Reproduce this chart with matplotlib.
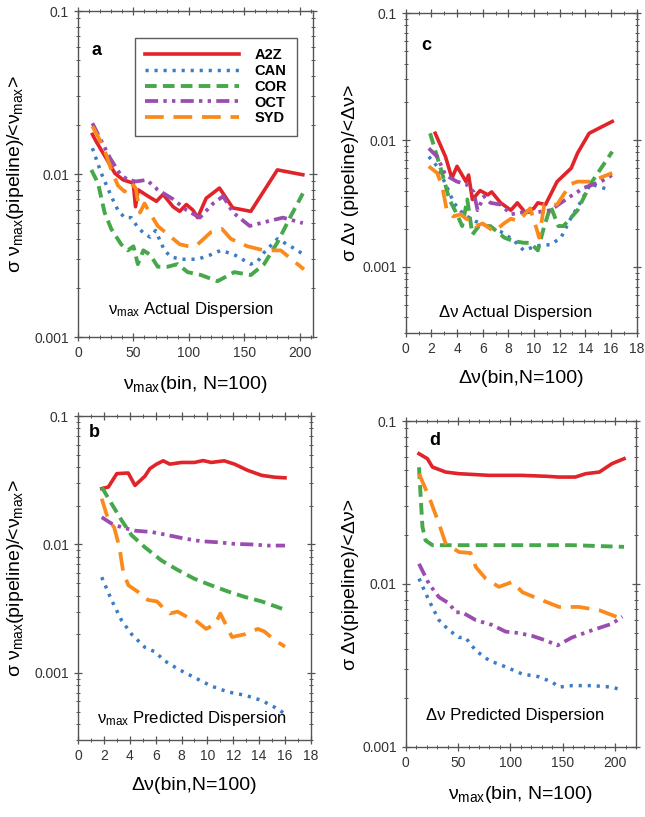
import matplotlib
matplotlib.use('Agg')
import matplotlib.pyplot as plt
from matplotlib.ticker import FixedLocator, MultipleLocator, NullFormatter, LogLocator

plt.rcParams['font.family'] = ['Liberation Sans', 'DejaVu Sans']
plt.rcParams['mathtext.fontset'] = 'custom'
plt.rcParams['mathtext.rm'] = 'Liberation Sans'
plt.rcParams['mathtext.it'] = 'Liberation Sans'
plt.rcParams['mathtext.bf'] = 'Liberation Sans:bold'

SERIES = ['A2Z', 'CAN', 'COR', 'OCT', 'SYD']

# panel a: numax actual dispersion vs numax bin
a_x_a2z = [13, 16, 20, 26, 33.3, 40.8, 49.8, 51.9, 54.3, 63.3, 70.8, 76.8, 85.8, 91.8, 97.8, 103.8, 108, 115.7, 127.7, 139.7, 156, 180, 203]
a_y_a2z = [0.0175, 0.0160, 0.0144, 0.0123, 0.0101, 0.0092, 0.0088, 0.0063, 0.0080, 0.0073, 0.0068, 0.0075, 0.0063, 0.0059, 0.0065, 0.0060, 0.0054, 0.0071, 0.0082, 0.0062, 0.0059, 0.0106, 0.0099]
a_x_can = [13, 21, 30, 36, 42, 48, 54, 60, 65, 70, 78, 84, 93, 108, 120, 129, 141, 156, 162, 168, 180, 192, 204]
a_y_can = [0.0144, 0.0101, 0.0073, 0.0060, 0.0054, 0.0054, 0.0047, 0.0043, 0.0041, 0.0045, 0.0034, 0.0031, 0.0030, 0.0030, 0.0032, 0.0034, 0.0032, 0.0028, 0.0029, 0.0033, 0.0040, 0.0036, 0.0032]
a_x_cor = [12, 18, 24, 30, 39, 45, 50, 54, 59, 65, 72, 81, 90, 99, 111, 126, 141, 156, 168, 180, 192, 203]
a_y_cor = [0.0106, 0.0088, 0.0058, 0.0046, 0.0037, 0.0034, 0.0036, 0.0028, 0.0034, 0.0032, 0.0027, 0.0027, 0.0028, 0.0025, 0.0024, 0.0022, 0.0025, 0.0024, 0.0028, 0.0038, 0.0055, 0.0076]
a_x_oct = [13, 20, 29, 38, 44, 52, 62, 72, 86, 98, 110, 122, 131, 140, 155, 170, 185, 203]
a_y_oct = [0.0205, 0.0165, 0.0125, 0.0100, 0.0093, 0.0090, 0.0092, 0.0080, 0.0070, 0.0060, 0.0054, 0.0066, 0.0073, 0.0058, 0.0048, 0.0051, 0.0054, 0.0050]
a_x_syd = [13, 18, 24, 30, 36, 42, 48, 52, 56, 60, 66, 72, 84, 92, 100, 108, 120, 130, 138, 153, 168, 183, 204]
a_y_syd = [0.0196, 0.0170, 0.0140, 0.0106, 0.0085, 0.0078, 0.0088, 0.0082, 0.0058, 0.0066, 0.0056, 0.0048, 0.0041, 0.0037, 0.0036, 0.0037, 0.0044, 0.0046, 0.0040, 0.0036, 0.0034, 0.0034, 0.0026]

# panel c: delta-nu actual dispersion vs delta-nu bin
c_x_a2z = [2.3, 3.1, 3.6, 4.0, 4.7, 4.9, 5.2, 5.8, 6.4, 6.7, 7.4, 8.2, 8.7, 9.3, 10.0, 10.3, 10.9, 11.8, 12.9, 13.4, 14.3, 16.1]
c_y_a2z = [0.0113, 0.0074, 0.0050, 0.0062, 0.0047, 0.0053, 0.0034, 0.0040, 0.0037, 0.0039, 0.0032, 0.0028, 0.0032, 0.0027, 0.0029, 0.0032, 0.0031, 0.0047, 0.0060, 0.0079, 0.0113, 0.0140]
c_x_can = [1.8, 2.45, 3.2, 3.75, 4.5, 5.4, 6.35, 7.4, 8.4, 9.2, 10.25, 11.3, 12.1, 12.85, 13.6, 14.4, 15.7]
c_y_can = [0.0074, 0.0062, 0.0043, 0.0032, 0.0026, 0.0023, 0.0021, 0.0019, 0.00163, 0.00135, 0.00147, 0.0015, 0.0017, 0.0024, 0.0032, 0.0045, 0.0041]
c_x_cor = [1.9, 2.45, 3.0, 3.4, 4.0, 4.4, 4.8, 5.2, 5.7, 6.6, 7.7, 8.4, 9.2, 9.7, 10.3, 10.8, 11.3, 11.9, 12.3, 13.4, 14.4, 16.1]
c_y_cor = [0.0113, 0.0074, 0.0048, 0.0034, 0.0026, 0.0021, 0.0034, 0.0018, 0.0021, 0.0021, 0.0017, 0.0016, 0.00155, 0.00155, 0.00135, 0.0021, 0.0030, 0.0021, 0.0021, 0.0028, 0.0045, 0.0081]
c_x_oct = [1.8, 2.45, 3.1, 4.0, 4.7, 5.3, 5.6, 6.1, 6.6, 7.4, 8.2, 9.2, 10.25, 11.3, 12.1, 12.85, 13.9, 15.2, 16.1]
c_y_oct = [0.0086, 0.0074, 0.0053, 0.0047, 0.0045, 0.0039, 0.0028, 0.0036, 0.0032, 0.0031, 0.0026, 0.0027, 0.0027, 0.0028, 0.0032, 0.0036, 0.0042, 0.0047, 0.0053]
c_x_syd = [1.8, 2.45, 2.85, 3.2, 3.7, 4.3, 4.7, 5.2, 5.45, 6.0, 6.9, 7.65, 8.2, 8.8, 9.7, 10.2, 10.4, 10.8, 11.8, 12.85, 13.4, 14.4, 16.1]
c_y_syd = [0.0062, 0.0055, 0.0043, 0.0028, 0.0025, 0.0026, 0.0024, 0.0023, 0.0021, 0.0022, 0.0019, 0.0022, 0.0024, 0.0023, 0.0029, 0.0020, 0.0017, 0.0031, 0.0031, 0.0045, 0.0047, 0.0047, 0.0055]

# panel b: numax predicted dispersion vs delta-nu bin
b_x_a2z = [1.83, 2.34, 3.0, 3.88, 4.4, 4.8, 5.17, 5.55, 6.07, 6.58, 7.1, 8.0, 9.0, 9.67, 10.3, 11.3, 12.1, 13.1, 14.2, 15.2, 16.0]
b_y_a2z = [0.0272, 0.028, 0.0356, 0.036, 0.0288, 0.0314, 0.034, 0.0389, 0.0422, 0.0448, 0.0422, 0.0435, 0.0435, 0.045, 0.0435, 0.0448, 0.0422, 0.0378, 0.0345, 0.0334, 0.033]
b_x_can = [1.83, 2.6, 3.37, 4.14, 5.17, 5.94, 6.7, 7.74, 9.0, 10.3, 11.6, 12.9, 14.2, 15.2, 16.0]
b_y_can = [0.00556, 0.00367, 0.00256, 0.0020, 0.00158, 0.00146, 0.00124, 0.00107, 0.00092, 0.00079, 0.00071, 0.00067, 0.00061, 0.00054, 0.00048]
b_x_cor = [1.83, 2.6, 3.37, 4.14, 5.17, 6.45, 7.74, 9.0, 10.3, 11.6, 12.9, 14.2, 16.0]
b_y_cor = [0.028, 0.0207, 0.0154, 0.0118, 0.0095, 0.0075, 0.0063, 0.0054, 0.0048, 0.0043, 0.0039, 0.0036, 0.0031]
b_x_oct = [1.83, 2.6, 3.37, 4.4, 5.68, 6.97, 8.25, 9.5, 10.8, 12.1, 13.4, 14.7, 16.0]
b_y_oct = [0.0163, 0.0145, 0.0136, 0.0128, 0.0125, 0.0118, 0.0111, 0.0106, 0.0104, 0.0101, 0.0100, 0.0098, 0.0098]
b_x_syd = [1.83, 2.3, 2.8, 3.2, 3.5, 3.9, 4.6, 5.4, 6.1, 6.6, 7.1, 7.7, 8.5, 9.0, 9.9, 10.6, 11.0, 11.9, 12.9, 13.9, 14.4, 15.2, 16.0]
b_y_syd = [0.0227, 0.0160, 0.0135, 0.0095, 0.0060, 0.0048, 0.0043, 0.0037, 0.0036, 0.0032, 0.0029, 0.0030, 0.0027, 0.0026, 0.0022, 0.0024, 0.0029, 0.0019, 0.0020, 0.0022, 0.0021, 0.0018, 0.0016]

# panel d: delta-nu predicted dispersion vs numax bin
d_x_a2z = [12.7, 20.7, 25.5, 38.2, 51, 79.6, 111, 134, 146.5, 162, 172, 185, 197, 208.6]
d_y_a2z = [0.063, 0.0587, 0.0522, 0.0486, 0.0475, 0.0464, 0.0464, 0.0458, 0.0453, 0.0453, 0.0475, 0.0486, 0.0547, 0.0587]
d_x_can = [12.7, 22.3, 31.8, 41.4, 51, 57, 67, 79.6, 95.5, 111.5, 127, 140, 146.5, 159, 178, 197, 207]
d_y_can = [0.0108, 0.0079, 0.0060, 0.0052, 0.0047, 0.0047, 0.0039, 0.0034, 0.0031, 0.0028, 0.0027, 0.0025, 0.00233, 0.00238, 0.00238, 0.00233, 0.00223]
d_x_cor = [12.7, 14.3, 16, 19, 25.5, 48, 95.5, 159, 208.6]
d_y_cor = [0.052, 0.0342, 0.0224, 0.0185, 0.0173, 0.0173, 0.0173, 0.0173, 0.0169]
d_x_oct = [12.7, 22.3, 31.8, 41.4, 47.8, 54, 67, 82.8, 95.5, 108, 121, 134, 145, 159, 178, 197, 207]
d_y_oct = [0.0133, 0.0100, 0.0083, 0.0076, 0.0067, 0.0067, 0.0060, 0.0056, 0.0051, 0.0050, 0.0048, 0.0045, 0.0042, 0.0047, 0.0052, 0.0057, 0.0063]
d_x_syd = [12.7, 22.3, 31.8, 38.2, 51, 62, 67, 76.4, 89, 102, 111.5, 127, 146.5, 165.6, 185, 207]
d_y_syd = [0.0475, 0.0342, 0.0234, 0.0177, 0.0157, 0.0155, 0.0127, 0.0108, 0.0096, 0.0103, 0.0089, 0.0081, 0.00723, 0.00723, 0.0069, 0.0061]

COLORS = {
    'A2Z': '#e0242a',
    'CAN': '#3b7cc4',
    'COR': '#46a84a',
    'OCT': '#9a4cb0',
    'SYD': '#fb8a1c',
}
STYLES = {
    'A2Z': dict(linestyle='-', linewidth=2.6),
    'CAN': dict(linestyle=(0, (0.9, 1.7)), linewidth=2.5),
    'COR': dict(linestyle=(0, (3.0, 1.6)), linewidth=2.8),
    'OCT': dict(linestyle=(0, (3.5, 1.4, 0.9, 1.4, 0.9, 1.4)), linewidth=2.7),
    'SYD': dict(linestyle=(0, (5.0, 2.6)), linewidth=2.7),
}

NUMAX = r'$\nu_{\rm max}$'
DNU = '\u0394\u03bd'
AXIS_COLOR = '#555555'


def style_axes(ax, xlim, xmajor, xminor):
    ax.set_yscale('log')
    ax.set_xlim(*xlim)
    ax.xaxis.set_major_locator(MultipleLocator(xmajor))
    ax.xaxis.set_minor_locator(MultipleLocator(xminor))
    ax.yaxis.set_major_locator(FixedLocator([0.001, 0.01, 0.1]))
    ax.yaxis.set_major_formatter(plt.FixedFormatter(['0.001', '0.01', '0.1']))
    ax.yaxis.set_minor_locator(LogLocator(base=10, subs=range(2, 10)))
    ax.yaxis.set_minor_formatter(NullFormatter())
    for spine in ax.spines.values():
        spine.set_color(AXIS_COLOR)
        spine.set_linewidth(1.0)
    ax.tick_params(which='both', direction='inout', colors=AXIS_COLOR, labelcolor='#333333',
                   top=True, right=True, labelsize=10)
    ax.tick_params(which='major', length=6, width=0.9)
    ax.tick_params(which='minor', length=3.5, width=0.7)


def plot_panel(ax, xs, ys):
    for name, x, y in zip(SERIES, xs, ys):
        ax.plot(x, y, color=COLORS[name], label=name, **STYLES[name])


fig = plt.figure(figsize=(6.45, 8.17), dpi=100)

ax_a = fig.add_axes([0.121, 0.5875, 0.364, 0.399])
ax_c = fig.add_axes([0.629, 0.592, 0.358, 0.392])
ax_b = fig.add_axes([0.121, 0.0942, 0.361, 0.3966])
ax_d = fig.add_axes([0.629, 0.0857, 0.357, 0.399])

plot_panel(ax_a, [a_x_a2z, a_x_can, a_x_cor, a_x_oct, a_x_syd],
           [a_y_a2z, a_y_can, a_y_cor, a_y_oct, a_y_syd])
plot_panel(ax_c, [c_x_a2z, c_x_can, c_x_cor, c_x_oct, c_x_syd],
           [c_y_a2z, c_y_can, c_y_cor, c_y_oct, c_y_syd])
plot_panel(ax_b, [b_x_a2z, b_x_can, b_x_cor, b_x_oct, b_x_syd],
           [b_y_a2z, b_y_can, b_y_cor, b_y_oct, b_y_syd])
plot_panel(ax_d, [d_x_a2z, d_x_can, d_x_cor, d_x_oct, d_x_syd],
           [d_y_a2z, d_y_can, d_y_cor, d_y_oct, d_y_syd])

style_axes(ax_a, (0, 212), 50, 10)
ax_a.set_ylim(0.001, 0.1)
style_axes(ax_c, (0, 18), 2, 1)
ax_c.set_ylim(0.0003, 0.1)
style_axes(ax_b, (0, 18), 2, 1)
ax_b.set_ylim(0.0003, 0.1)
style_axes(ax_d, (0, 220), 50, 10)
ax_d.set_ylim(0.001, 0.1)

label_size = 14
ax_a.set_xlabel(NUMAX + '(bin, N=100)', fontsize=label_size, labelpad=10)
ax_a.set_ylabel(r'$\sigma\ \nu_{\rm max}$(pipeline)/<' + NUMAX + '>', fontsize=label_size, labelpad=6)
ax_c.set_xlabel(DNU + '(bin,N=100)', fontsize=label_size, labelpad=10)
ax_c.set_ylabel('\u03c3 ' + DNU + ' (pipeline)/<' + DNU + '>', fontsize=label_size, labelpad=2)
ax_b.set_xlabel(DNU + '(bin,N=100)', fontsize=label_size, labelpad=10)
ax_b.set_ylabel(r'$\sigma\ \nu_{\rm max}$(pipeline)/<' + NUMAX + '>', fontsize=label_size, labelpad=6)
ax_d.set_xlabel(NUMAX + '(bin, N=100)', fontsize=label_size, labelpad=10)
ax_d.set_ylabel('\u03c3 ' + DNU + '(pipeline)/<' + DNU + '>', fontsize=label_size, labelpad=2)

note_size = 12
ax_a.text(0.48, 0.083, NUMAX + ' Actual Dispersion', transform=ax_a.transAxes,
          ha='center', va='center', fontsize=note_size)
ax_c.text(0.476, 0.066, DNU + ' Actual Dispersion', transform=ax_c.transAxes,
          ha='center', va='center', fontsize=note_size)
ax_b.text(0.49, 0.068, NUMAX + ' Predicted Dispersion', transform=ax_b.transAxes,
          ha='center', va='center', fontsize=note_size)
ax_d.text(0.474, 0.098, DNU + ' Predicted Dispersion', transform=ax_d.transAxes,
          ha='center', va='center', fontsize=note_size)

for ax, letter, (lx, ly) in [(ax_a, 'a', (0.08, 0.88)), (ax_c, 'c', (0.09, 0.9)),
                             (ax_b, 'b', (0.07, 0.948)), (ax_d, 'd', (0.126, 0.94))]:
    ax.text(lx, ly, letter, transform=ax.transAxes, ha='center', va='center',
            fontsize=13, fontweight='bold')

leg = ax_a.legend(loc='upper left', bbox_to_anchor=(0.243, 0.917), handlelength=6.4,
                  handletextpad=1.1, labelspacing=0.12, borderpad=0.7, borderaxespad=0,
                  fancybox=False, frameon=True, edgecolor='#333333',
                  prop=dict(size=10.5, weight='bold'))
leg.get_frame().set_linewidth(1.0)

fig.savefig('out.png', dpi=100)
